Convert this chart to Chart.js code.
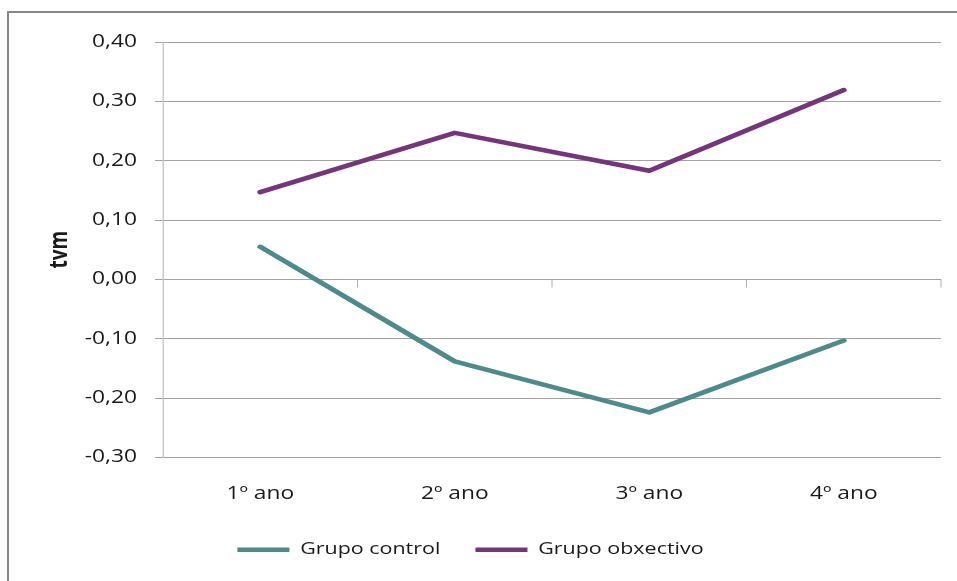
<!DOCTYPE html>
<html>
<head>
<meta charset="utf-8">
<script src="https://cdn.jsdelivr.net/npm/chart.js@4/dist/chart.umd.min.js"></script>
<style>
  html, body { margin: 0; padding: 0; background: #ffffff; overflow: hidden; }
  #wrap { position: relative; width: 957px; height: 581px; }
  #frame { position: absolute; left: 7px; top: 11px; width: 1000px; height: 1000px;
           border: 2.5px solid #878787; box-sizing: border-box; }
  canvas { position: absolute; left: 0; top: 0; }
</style>
</head>
<body>
<div id="wrap">
  <div id="frame"></div>
  <canvas id="c" width="736" height="581"></canvas>
</div>
<script>
const categories = ['1º ano', '2º ano', '3º ano', '4º ano'];
const grupoControl = [0.055, -0.138, -0.224, -0.103];
const grupoObxectivo = [0.147, 0.247, 0.183, 0.319];
const seriesNames = ['Grupo control', 'Grupo obxectivo'];
const axisTitle = 'tvm';

// The reference picture is stretched horizontally; the chart is laid out
// in a narrower logical width and drawn with a horizontal stretch.
const OUT_W = 957, OUT_H = 581, LOG_W = 736;
const SX = OUT_W / LOG_W;

const FONT = "'Open Sans', 'Noto Sans', sans-serif";
const GRID = '#a3a3a3';
const TEXT = '#1a1a1a';

const zeroTicks = {
  id: 'zeroTicks',
  beforeDatasetsDraw(chart) {
    const { ctx, scales: { x, y } } = chart;
    const y0 = y.getPixelForValue(0);
    ctx.save();
    ctx.strokeStyle = GRID;
    ctx.lineWidth = 1 / SX;
    ctx.beginPath();
    const n = x.ticks.length;
    for (let i = 1; i <= n; i++) {
      const px = i < n ? (x.getPixelForValue(i - 1) + x.getPixelForValue(i)) / 2 : chart.chartArea.right;
      ctx.moveTo(px, y0);
      ctx.lineTo(px, y0 + 8);
    }
    ctx.stroke();
    ctx.restore();
  }
};

const canvas = document.getElementById('c');
const chart = new Chart(canvas, {
  type: 'line',
  data: {
    labels: categories,
    datasets: [
      { label: seriesNames[0], data: grupoControl, borderColor: '#4f8a8b', backgroundColor: '#4f8a8b',
        borderWidth: 4.5, pointRadius: 0, tension: 0, borderCapStyle: 'round', borderJoinStyle: 'round' },
      { label: seriesNames[1], data: grupoObxectivo, borderColor: '#74357a', backgroundColor: '#74357a',
        borderWidth: 4.5, pointRadius: 0, tension: 0, borderCapStyle: 'round', borderJoinStyle: 'round' }
    ]
  },
  options: {
    responsive: false,
    animation: false,
    devicePixelRatio: 1,
    layout: { padding: { left: 0, right: 12.3, top: 42, bottom: 13 } },
    plugins: {
      tooltip: { enabled: false },
      legend: {
        position: 'bottom',
        labels: {
          usePointStyle: true,
          pointStyle: 'line',
          pointStyleWidth: 40,
          padding: 27,
          color: TEXT,
          font: { family: FONT, size: 16.5 }
        }
      }
    },
    scales: {
      x: {
        type: 'category',
        offset: true,
        afterFit(scale) { scale.height = 57; },
        grid: { display: false },
        border: { display: false },
        ticks: { color: TEXT, padding: 18, maxRotation: 0, font: { family: FONT, size: 17.5 } }
      },
      y: {
        min: -0.3,
        max: 0.4,
        afterFit(scale) { scale.width = 163 / SX; },
        grid: { color: GRID, lineWidth: 1, tickLength: 8 / SX, drawTicks: true },
        border: { display: true, color: GRID, width: 1 / SX },
        ticks: {
          stepSize: 0.1,
          padding: 18 / SX,
          color: TEXT,
          font: { family: FONT, size: 17.5 },
          callback: (v) => v.toFixed(2).replace('.', ',').replace('-0,00', '0,00')
        },
        title: {
          display: true,
          text: axisTitle,
          color: TEXT,
          padding: { top: 35, bottom: 0 },
          font: { family: FONT, size: 19, weight: 'bold' }
        }
      }
    }
  },
  plugins: [zeroTicks]
});

// Widen the bitmap and draw again with a horizontal stretch.
canvas.width = OUT_W;
canvas.height = OUT_H;
canvas.style.width = OUT_W + 'px';
canvas.style.height = OUT_H + 'px';
chart.ctx.setTransform(SX, 0, 0, 1, 0, 0);
chart.draw();
</script>
</body>
</html>
